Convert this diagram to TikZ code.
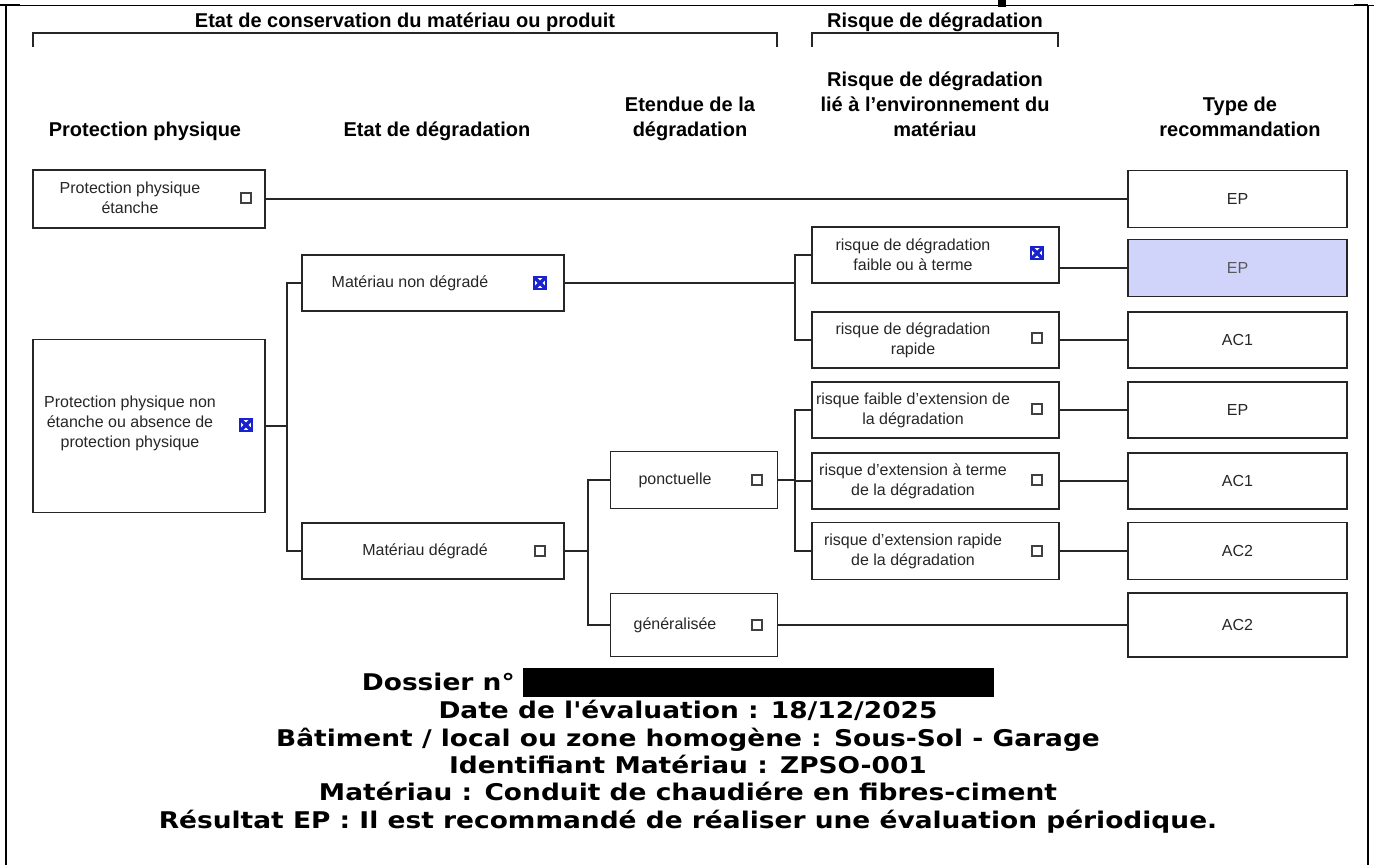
\documentclass[tikz,border=0pt]{standalone}
\usepackage{fontspec}
\setmainfont{Liberation Sans}
\newfontfamily\infofont[FakeStretch=1.15]{DejaVu Sans}
\usetikzlibrary{calc}
\definecolor{choix}{RGB}{208,212,250}
\definecolor{coche}{RGB}{25,35,205}
\tikzset{
  boite/.style={draw=black!85,line width=1.5pt,inner sep=0pt},
  txt/.style={align=center,inner sep=0pt,text=black!85,font=\fontsize{16}{20}\selectfont},
  entete/.style={align=center,inner sep=0pt,font=\fontsize{20}{25}\selectfont\bfseries},
  lien/.style={draw=black!85,line width=1.6pt},
  accolade/.style={draw=black!85,line width=1.6pt},
  case/.style={draw=black!75,line width=1.2pt,minimum size=10pt,inner sep=0pt},
  casex/.style={case,draw=coche,line width=1.4pt,minimum size=12pt,path picture={
      \draw[coche,line width=3.2pt] (path picture bounding box.north west) -- (path picture bounding box.south east)
        (path picture bounding box.north east) -- (path picture bounding box.south west);}},
  info/.style={inner sep=0pt,font=\infofont\fontsize{23}{28}\selectfont\bfseries}
}
\begin{document}
\begin{tikzpicture}[x=1pt,y=-1pt]
  \useasboundingbox (0,0) rectangle (1374,865);
  % cadre
  \draw[line width=0.8pt] (0,5) -- (1374,5);
  \draw[line width=2.5pt] (0,5) -- (20,5);
  \draw[line width=2.5pt] (1354,5) -- (1368,5);
  \draw[line width=2.5pt] (6,5) -- (6,865);
  \draw[line width=2.5pt] (1368,5) -- (1368,865);
  \fill (998,0) rectangle (1006,7);

  % titres
  \node[entete,anchor=base] (h-etat) at (405,27) {Etat de conservation du mat\'eriau ou produit};
  \draw[accolade] (33,47) |- (777,33) -- (777,47);
  \node[entete,anchor=base] (h-risque) at (935,27) {Risque de d\'egradation};
  \draw[accolade] (812,47) |- (1058,33) -- (1058,47);

  \node[entete,anchor=north] (h-prot) at (145,122) {Protection physique};
  \node[entete,anchor=north] (h-degr) at (437,122) {Etat de d\'egradation};
  \node[entete,anchor=north] (h-eten) at (690,97) {Etendue de la\\d\'egradation};
  \node[entete,anchor=north] (h-envi) at (935,72) {Risque de d\'egradation\\li\'e \`a l'environnement du\\mat\'eriau};
  \node[entete,anchor=north] (h-type) at (1240,97) {Type de\\recommandation};

  % protection physique
  \node[boite,minimum width=232pt,minimum height=58pt] (ppe) at (149,199) {};
  \node[txt] (ppe-t) at (130,198) {Protection physique\\\'etanche};
  \node[case] (ppe-c) at (246,198) {};
  \node[boite,minimum width=232pt,minimum height=173pt] (ppn) at (149,426) {};
  \node[txt] (ppn-t) at (130,423) {Protection physique non\\\'etanche ou absence de\\protection physique};
  \node[casex] (ppn-c) at (246,425) {};

  % etat de degradation
  \node[boite,minimum width=262pt,minimum height=56pt] (mnd) at (433,283) {};
  \node[txt] (mnd-t) at (410,283) {Mat\'eriau non d\'egrad\'e};
  \node[casex] (mnd-c) at (540,283) {};
  \node[boite,minimum width=262pt,minimum height=56pt] (md) at (433,551) {};
  \node[txt] (md-t) at (425,551) {Mat\'eriau d\'egrad\'e};
  \node[case] (md-c) at (540,551) {};

  % etendue
  \node[boite,minimum width=167pt,minimum height=57pt] (pon) at (694,480) {};
  \node[txt] (pon-t) at (675,480) {ponctuelle};
  \node[case] (pon-c) at (757,480) {};
  \node[boite,minimum width=167pt,minimum height=63pt] (gen) at (694,625) {};
  \node[txt] (gen-t) at (675,625) {g\'en\'eralis\'ee};
  \node[case] (gen-c) at (757,625) {};

  % risque lie a l'environnement
  \node[boite,minimum width=247pt,minimum height=56pt] (r1) at (935.5,255) {};
  \node[txt] (r1-t) at (913,255) {risque de d\'egradation\\faible ou \`a terme};
  \node[casex] (r1-c) at (1037,253) {};
  \node[boite,minimum width=247pt,minimum height=56pt] (r2) at (935.5,340) {};
  \node[txt] (r2-t) at (913,340) {risque de d\'egradation\\rapide};
  \node[case] (r2-c) at (1037,338) {};
  \node[boite,minimum width=247pt,minimum height=56pt] (r3) at (935.5,410) {};
  \node[txt] (r3-t) at (913,410) {risque faible d'extension de\\la d\'egradation};
  \node[case] (r3-c) at (1037,409) {};
  \node[boite,minimum width=247pt,minimum height=56pt] (r4) at (935.5,481) {};
  \node[txt] (r4-t) at (913,481) {risque d'extension \`a terme\\de la d\'egradation};
  \node[case] (r4-c) at (1037,480) {};
  \node[boite,minimum width=247pt,minimum height=57pt] (r5) at (935.5,551) {};
  \node[txt] (r5-t) at (913,551) {risque d'extension rapide\\de la d\'egradation};
  \node[case] (r5-c) at (1037,551) {};

  % type de recommandation
  \node[boite,minimum width=219pt,minimum height=57pt] (t1) at (1237.5,199) {};
  \node[txt] (t1-t) at (1237.5,199) {EP};
  \node[boite,fill=choix,minimum width=219pt,minimum height=57pt] (t2) at (1237.5,268) {};
  \node[txt,text=black!65] (t2-t) at (1237.5,268) {EP};
  \node[boite,minimum width=219pt,minimum height=56pt] (t3) at (1237.5,340) {};
  \node[txt] (t3-t) at (1237.5,340) {AC1};
  \node[boite,minimum width=219pt,minimum height=56pt] (t4) at (1237.5,410) {};
  \node[txt] (t4-t) at (1237.5,410) {EP};
  \node[boite,minimum width=219pt,minimum height=56pt] (t5) at (1237.5,481) {};
  \node[txt] (t5-t) at (1237.5,481) {AC1};
  \node[boite,minimum width=219pt,minimum height=57pt] (t6) at (1237.5,551) {};
  \node[txt] (t6-t) at (1237.5,551) {AC2};
  \node[boite,minimum width=219pt,minimum height=64pt] (t7) at (1237.5,625) {};
  \node[txt] (t7-t) at (1237.5,625) {AC2};

  % liaisons
  \coordinate (j1) at ($(ppn.east)+(21,0)$);
  \coordinate (j2) at ($(r1.west)+(-16,0)$);
  \coordinate (j3) at ($(pon.west)+(-22,0)$);
  \coordinate (j4) at ($(r3.west)+(-16,0)$);
  \draw[lien] (ppe.east) -- (ppe.east -| t1.west);
  \draw[lien] (ppn.east) -- (j1);
  \draw[lien] (mnd.west) -| (j1) |- (md.west);
  \draw[lien] (mnd.east) -- (mnd.east -| j2);
  \draw[lien] (r1.west) -| (j2) |- (r2.west);
  \draw[lien] (md.east) -- (md.east -| j3);
  \draw[lien] (pon.west) -| (j3) |- (gen.west);
  \draw[lien] (pon.east) -- (pon.east -| j4);
  \draw[lien] (r3.west) -| (j4) |- (r5.west);
  \draw[lien] (r4.west) -- (r4.west -| j4);
  \draw[lien] (r1.east |- t2.west) -- (t2.west);
  \draw[lien] (r2.east) -- (r2.east -| t3.west);
  \draw[lien] (r3.east) -- (r3.east -| t4.west);
  \draw[lien] (r4.east) -- (r4.east -| t5.west);
  \draw[lien] (r5.east) -- (r5.east -| t6.west);
  \draw[lien] (gen.east) -- (gen.east -| t7.west);

  % informations
  \node[info,anchor=base east] (dossier) at (515,690) {Dossier n\textdegree};
  \fill (523,668) rectangle (994,697);
  \node[info,anchor=base] (date) at (688,718) {Date de l'\'evaluation : 18/12/2025};
  \node[info,anchor=base] (batiment) at (688,746) {B\^atiment / local ou zone homog\`ene : Sous-Sol - Garage};
  \node[info,anchor=base] (ident) at (688,773) {Identifiant Mat\'eriau : ZPSO-001};
  \node[info,anchor=base] (materiau) at (688,800) {Mat\'eriau : Conduit de chaudi\'ere en fibres-ciment};
  \node[info,anchor=base] (resultat) at (688,828) {R\'esultat EP : Il est recommand\'e de r\'ealiser une \'evaluation p\'eriodique.};
\end{tikzpicture}
\end{document}
